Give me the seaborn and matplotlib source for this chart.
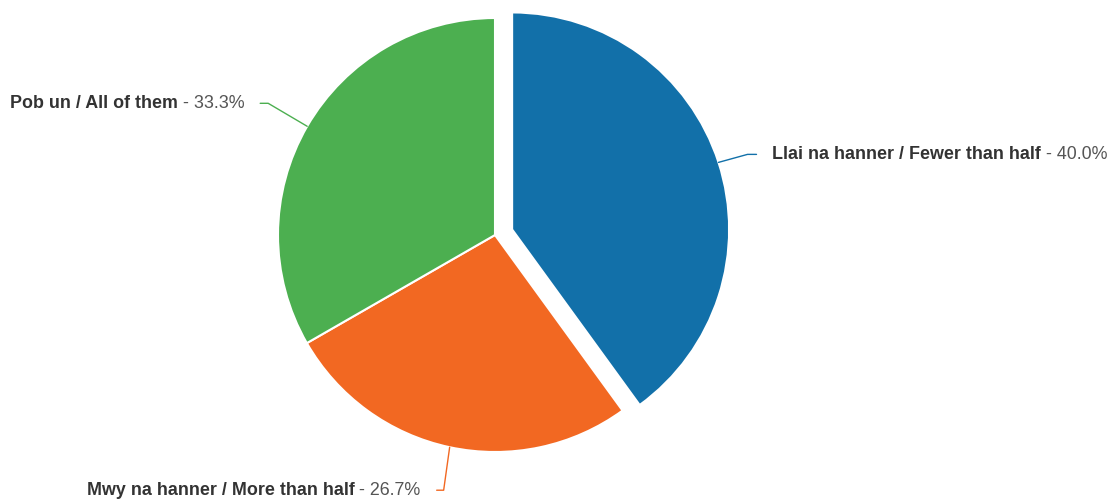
import numpy as np
import matplotlib
matplotlib.use("Agg")
import matplotlib.pyplot as plt
import seaborn as sns

# answers, in drawing order (clockwise from 12 o'clock)
categories = ["Llai na hanner / Fewer than half",
              "Mwy na hanner / More than half",
              "Pob un / All of them"]
shares = [40.0, 26.7, 33.3]
colors = ["#1270a9", "#f26822", "#4caf50"]

sns.set_theme(style="white")
plt.rcParams['font.family'] = ['Liberation Sans', 'DejaVu Sans']

W, H = 1111, 503
fig = plt.figure(figsize=(W / 100, H / 100), dpi=100)
ax = fig.add_axes([0, 0, 1, 1])

cx, cy, rad = 495, H - 235, 217
explode = [18, 0, 0]
wedges, _ = ax.pie(shares, colors=colors, startangle=90, counterclock=False,
                   radius=rad, center=(cx, cy), explode=explode,
                   wedgeprops=dict(edgecolor="white", linewidth=1.5))
ax.set_xlim(0, W)
ax.set_ylim(0, H)
ax.set_aspect("equal")
ax.axis("off")

# leader line elbows (offsets from slice edge) and label side
elbows = [(29, 8), (-6, -43), (-39, 23)]
tails = [9, -7, -8]
fs = 12.9
fig.canvas.draw()
renderer = fig.canvas.get_renderer()

for w, name, val, col, (ex, ey), tl in zip(wedges, categories, shares, colors, elbows, tails):
    mid = np.deg2rad((w.theta1 + w.theta2) / 2)
    px = w.center[0] + rad * np.cos(mid)
    py = w.center[1] + rad * np.sin(mid)
    bx, by = px + ex, py + ey
    ax.plot([px, bx, bx + tl], [py, by, by], color=col, lw=1)
    tx = bx + tl + (16 if tl > 0 else -16)
    pct = f" - {val:.1f}%"
    if tl > 0:
        t1 = ax.text(tx, by, name, ha="left", va="center", fontsize=fs,
                     fontweight="bold", color="#333333")
        bb = t1.get_window_extent(renderer)
        x2 = ax.transData.inverted().transform((bb.x1, 0))[0]
        ax.text(x2, by, pct, ha="left", va="center", fontsize=fs, color="#555555")
    else:
        t2 = ax.text(tx, by, pct, ha="right", va="center", fontsize=fs, color="#555555")
        bb = t2.get_window_extent(renderer)
        x1 = ax.transData.inverted().transform((bb.x0, 0))[0]
        ax.text(x1, by, name, ha="right", va="center", fontsize=fs,
                fontweight="bold", color="#333333")

fig.savefig("out.png", dpi=100)
